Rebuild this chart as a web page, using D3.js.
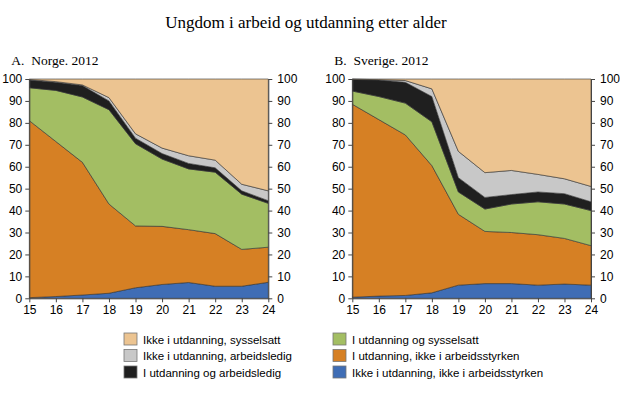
<!DOCTYPE html>
<html>
<head>
<meta charset="utf-8">
<script src="https://cdn.jsdelivr.net/npm/d3@7"></script>
<style>
  body { margin: 0; background: #fff; }
  svg { display: block; }
  .axis text { font-family: "Liberation Sans", Arial, sans-serif; font-size: 12px; fill: #000; }
  .axis path, .axis line { stroke: #444; stroke-width: 1; }
</style>
</head>
<body>
<svg id="chart" width="620" height="395"></svg>
<script>
"use strict";

const ages = [15, 16, 17, 18, 19, 20, 21, 22, 23, 24];
const yTicks = [0, 10, 20, 30, 40, 50, 60, 70, 80, 90, 100];

// series keys, stacked bottom up
const seriesNames = [
  "Ikke i utdanning, ikke i arbeidsstyrken",
  "I utdanning, ikke i arbeidsstyrken",
  "I utdanning og sysselsatt",
  "I utdanning og arbeidsledig",
  "Ikke i utdanning, arbeidsledig",
  "Ikke i utdanning, sysselsatt"
];
const seriesColors = ["#3f6db5", "#d68024", "#a3be63", "#1f1f1f", "#c8c8c8", "#ecc491"];

// Norge 2012, per cent of each age
const norgeBlue   = [0.3, 0.8, 1.5, 2.3, 4.8, 6.3, 7.2, 5.5, 5.5, 7.3];
const norgeOrange = [80.7, 70.7, 60.5, 40.7, 28.2, 26.5, 24.1, 24, 16.8, 16];
const norgeGreen  = [15, 23.3, 29.8, 43, 37.5, 30.7, 27.7, 28, 25.2, 20];
const norgeBlack  = [3.5, 3.7, 5.2, 4, 2.5, 2.5, 2.5, 2, 1.5, 1.2];
const norgeGray   = [0.3, 0.3, 0.3, 1.5, 2, 2.5, 3.5, 3.5, 3, 4.5];
const norgeTan    = [0.2, 1.2, 2.7, 8.5, 25, 31.5, 35, 37, 48, 51];

// Sverige 2012
const sverigeBlue   = [0.5, 1, 1.3, 2.5, 6, 6.7, 6.7, 6, 6.5, 6];
const sverigeOrange = [88, 80.5, 73.2, 58, 32.3, 23.8, 23.3, 23, 20.8, 18];
const sverigeGreen  = [6, 10.5, 14.5, 20, 10.2, 10.2, 13, 15, 15.7, 16];
const sverigeBlack  = [5.3, 7.5, 9.5, 11.5, 6.5, 5.3, 4.3, 4.5, 4.7, 4];
const sverigeGray   = [0.1, 0.2, 0.8, 3.5, 12, 11.3, 11, 8, 6.8, 7];
const sverigeTan    = [0.1, 0.3, 0.7, 4.5, 33, 42.7, 41.7, 43.5, 45.5, 49];

const svg = d3.select("#chart");

// main title
svg.append("text")
    .attr("x", 306)
    .attr("y", 28)
    .attr("text-anchor", "middle")
    .style("font-family", "'Liberation Serif', 'Times New Roman', serif")
    .style("font-size", "17px")
    .text("Ungdom i arbeid og utdanning etter alder");

function drawPanel(left, right, title, cols) {
    const top = 79, bottom = 298.3;

    const rows = ages.map((a, i) => {
        const r = { age: a };
        seriesNames.forEach((s, k) => { r[s] = cols[k][i]; });
        return r;
    });

    const x = d3.scaleLinear().domain([15, 24]).range([left, right]);
    const y = d3.scaleLinear().domain([0, 100]).range([bottom, top]);

    const stack = d3.stack().keys(seriesNames);
    const layers = stack(rows);

    const area = d3.area()
        .x(d => x(d.data.age))
        .y0(d => y(d[0]))
        .y1(d => y(d[1]));

    const g = svg.append("g");

    g.selectAll("path.layer")
        .data(layers)
        .enter().append("path")
        .attr("class", "layer")
        .attr("fill", (d, i) => seriesColors[i])
        .attr("stroke", "#333")
        .attr("stroke-width", 0.6)
        .attr("stroke-linejoin", "round")
        .attr("d", area);

    g.append("g")
        .attr("class", "axis")
        .attr("transform", "translate(" + left + ",0)")
        .call(d3.axisLeft(y).tickValues(yTicks).tickSize(4).tickPadding(3).tickSizeOuter(0));

    g.append("g")
        .attr("class", "axis")
        .attr("transform", "translate(" + right + ",0)")
        .call(d3.axisRight(y).tickValues(yTicks).tickSize(4).tickPadding(5).tickSizeOuter(0));

    g.append("g")
        .attr("class", "axis")
        .attr("transform", "translate(0," + bottom + ")")
        .call(d3.axisBottom(x).tickValues(ages).tickFormat(d3.format("d")).tickSize(4).tickPadding(3).tickSizeOuter(0));

    svg.append("text")
        .attr("x", left - 18)
        .attr("y", 65)
        .style("font-family", "'Liberation Serif', 'Times New Roman', serif")
        .style("font-size", "13.5px")
        .attr("xml:space", "preserve")
        .text(title);
}

drawPanel(29.3, 268.3, "A.  Norge. 2012",
    [norgeBlue, norgeOrange, norgeGreen, norgeBlack, norgeGray, norgeTan]);
drawPanel(352.3, 591, "B.  Sverige. 2012",
    [sverigeBlue, sverigeOrange, sverigeGreen, sverigeBlack, sverigeGray, sverigeTan]);

// legend, two columns, ordered as in the original
const legendItems = [
    { k: 5, col: 0, row: 0 },
    { k: 4, col: 0, row: 1 },
    { k: 3, col: 0, row: 2 },
    { k: 2, col: 1, row: 0 },
    { k: 1, col: 1, row: 1 },
    { k: 0, col: 1, row: 2 }
];
const legend = svg.append("g");
const lg = legend.selectAll("g")
    .data(legendItems)
    .enter().append("g")
    .attr("transform", d => "translate(" + (d.col ? 333 : 124) + "," + (333 + d.row * 16.5) + ")");

lg.append("rect")
    .attr("width", 13)
    .attr("height", 12)
    .attr("fill", d => seriesColors[d.k])
    .attr("stroke", "#777")
    .attr("stroke-width", 0.8);

lg.append("text")
    .attr("x", 19)
    .attr("y", 10.5)
    .style("font-family", "'Liberation Sans', Arial, sans-serif")
    .style("font-size", "11.5px")
    .text(d => seriesNames[d.k]);
</script>
</body>
</html>
